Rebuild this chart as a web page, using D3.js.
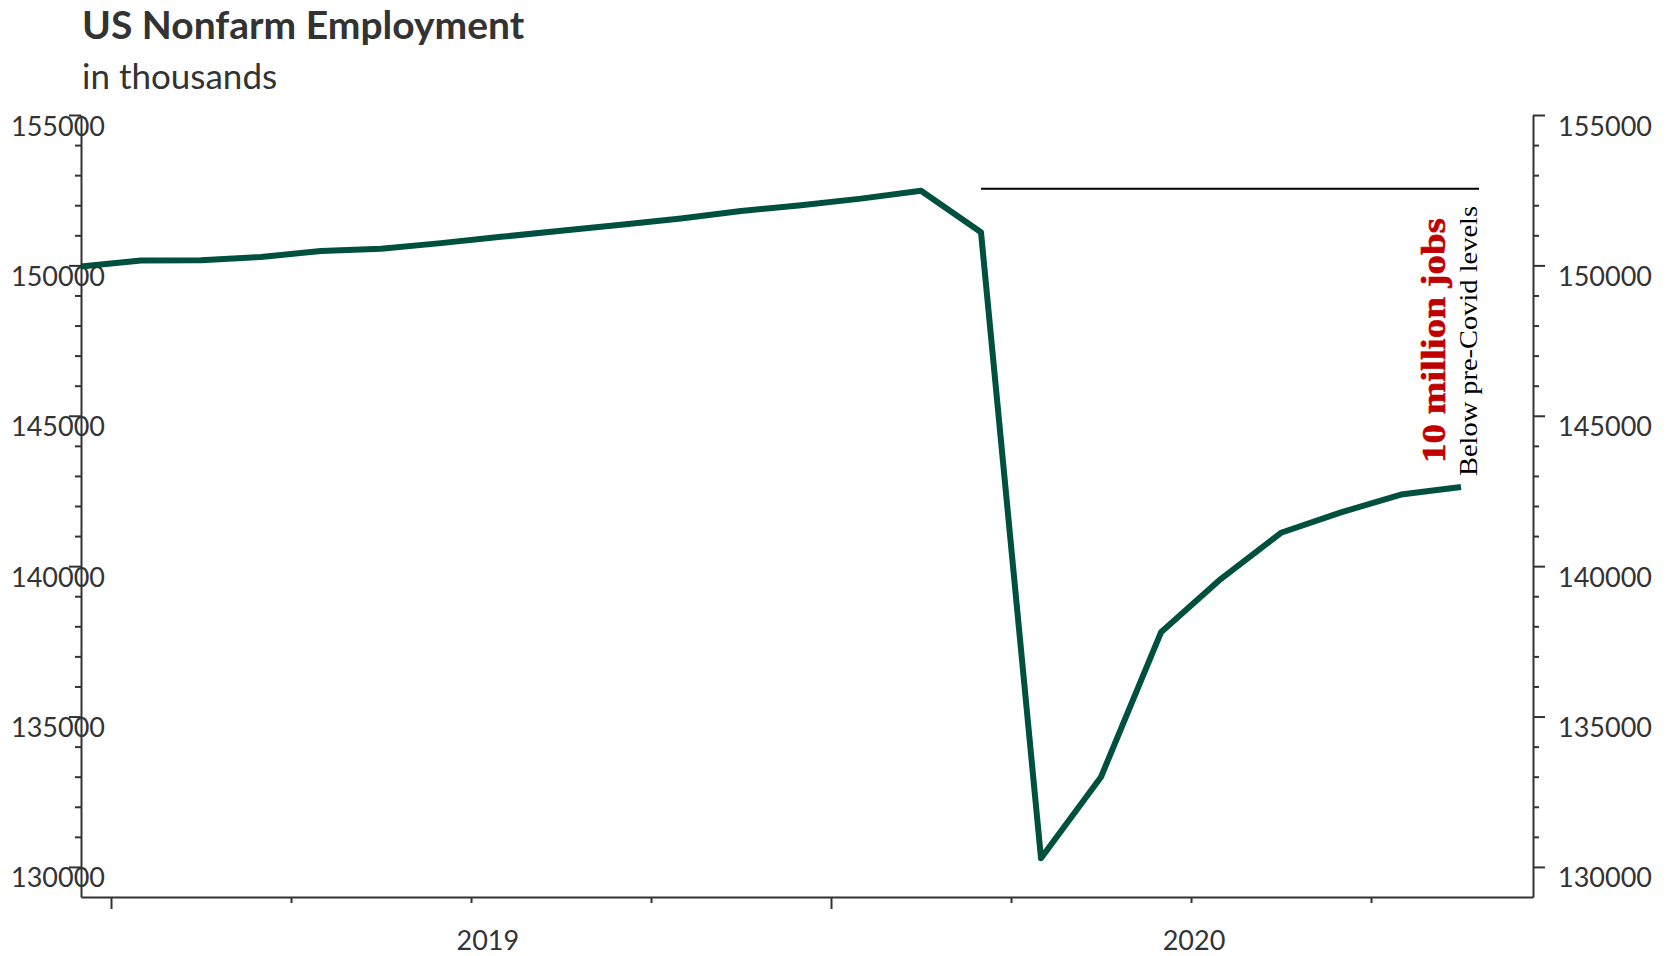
<!DOCTYPE html>
<html>
<head>
<meta charset="utf-8">
<script src="https://cdn.jsdelivr.net/npm/d3@7"></script>
<style>
  html, body { margin: 0; padding: 0; background: #fff; }
  svg { display: block; }
</style>
</head>
<body>
<svg id="chart" width="1671" height="956"></svg>
<script>
// Monthly US nonfarm payrolls, seasonally adjusted (thousands)
const months = [
  "2018-12",
  "2019-01","2019-02","2019-03","2019-04","2019-05","2019-06",
  "2019-07","2019-08","2019-09","2019-10","2019-11","2019-12",
  "2020-01","2020-02","2020-03","2020-04","2020-05","2020-06",
  "2020-07","2020-08","2020-09","2020-10","2020-11"
];
const employment = [
  149960,
  150160, 150170, 150280, 150480, 150550, 150740,
  150950, 151150, 151350, 151560, 151810, 152000,
  152220, 152480, 151100, 130290, 132990, 137800,
  139580, 141110, 141790, 142380, 142630
];
const yearLabels = ["2019", "2020"];
const yMajorTicks = [130000, 135000, 140000, 145000, 150000, 155000];
const annotationHeadline = "10 million jobs";
const annotationNote = "Below pre-Covid levels";

const svg = d3.select("#chart");
const plot = { left: 81, right: 1533, top: 115, bottom: 897 };
const ink = "#333333";
const lineColor = "#00503f";

// month index scale; the plot extends a little past the last month
const x = d3.scaleLinear().domain([0, 24.2]).range([plot.left, plot.right]);
const y = d3.scaleLinear().domain([129000, 155000]).range([plot.bottom, plot.top]);

// Title block
svg.append("text")
  .attr("x", 82).attr("y", 39)
  .attr("font-family", "Lato, sans-serif").attr("font-weight", 700)
  .attr("font-size", 39).attr("fill", ink)
  .text("US Nonfarm Employment");
svg.append("text")
  .attr("x", 82).attr("y", 89)
  .attr("font-family", "Lato, sans-serif").attr("font-size", 35).attr("fill", ink)
  .text("in thousands");

// y ticks every 1000, labelled every 5000
const yTicks = d3.range(130000, 155001, 1000);
const isMajor = v => v % 5000 === 0;

function styleYAxis(g, side) {
  const dir = side === "left" ? -1 : 1;
  g.select(".domain").attr("stroke", ink).attr("stroke-width", 2);
  g.selectAll(".tick line")
    .attr("stroke", ink).attr("stroke-width", 2)
    .attr("x2", d => dir * (isMajor(d) ? 12 : 6));
  g.selectAll(".tick text")
    .attr("font-family", "Lato, sans-serif").attr("font-size", 27)
    .attr("fill", ink)
    .attr("text-anchor", "start")
    .attr("x", side === "left" ? -70 : 25)
    .attr("y", 20).attr("dy", 0)
    .text(d => yMajorTicks.includes(d) ? d : "");
}

const leftAxis = svg.append("g")
  .attr("transform", `translate(${plot.left},0)`)
  .call(d3.axisLeft(y).tickValues(yTicks).tickSizeOuter(0).tickFormat(d3.format("d")));
styleYAxis(leftAxis, "left");

const rightAxis = svg.append("g")
  .attr("transform", `translate(${plot.right},0)`)
  .call(d3.axisRight(y).tickValues(yTicks).tickSizeOuter(0).tickFormat(d3.format("d")));
styleYAxis(rightAxis, "right");

// x axis: quarter boundaries, longer marks at year boundaries
const quarterTicks = d3.range(0.5, 24, 3);
const bottomAxis = svg.append("g")
  .attr("transform", `translate(0,${plot.bottom})`)
  .call(d3.axisBottom(x).tickValues(quarterTicks).tickSizeOuter(0).tickFormat(""));
bottomAxis.select(".domain").attr("stroke", ink).attr("stroke-width", 2);
bottomAxis.selectAll(".tick line")
  .attr("stroke", ink).attr("stroke-width", 2)
  .attr("y2", d => ((d - 0.5) % 12 === 0) ? 12 : 6);

// year labels under each year's group of months
const yearCentres = [6.78, 18.55];
svg.append("g").selectAll("text")
  .data(yearLabels)
  .join("text")
  .attr("x", (d, i) => x(yearCentres[i]))
  .attr("y", 950)
  .attr("text-anchor", "middle")
  .attr("font-family", "Lato, sans-serif").attr("font-size", 27).attr("fill", ink)
  .text(d => d);

// employment line
const line = d3.line()
  .x((d, i) => x(i))
  .y(d => y(d));
svg.append("path")
  .datum(employment)
  .attr("d", line)
  .attr("fill", "none")
  .attr("stroke", lineColor)
  .attr("stroke-width", 6)
  .attr("stroke-linejoin", "round");

// pre-Covid peak reference line
const peak = d3.max(employment);
const peakIdx = employment.indexOf(peak);
svg.append("line")
  .attr("x1", x(peakIdx + 1)).attr("x2", x(23.3))
  .attr("y1", y(peak) - 2).attr("y2", y(peak) - 2)
  .attr("stroke", "#000").attr("stroke-width", 2);

// vertical annotation beside the latest reading
const lastX = x(employment.length - 1);
svg.append("text")
  .attr("transform", `translate(${lastX - 16},463) rotate(-90)`)
  .attr("font-family", "'Liberation Serif', serif").attr("font-weight", 700)
  .attr("font-size", 34).attr("fill", "#c00000")
  .attr("stroke", "#c00000").attr("stroke-width", 0.6)
  .attr("textLength", 245).attr("lengthAdjust", "spacingAndGlyphs")
  .text(annotationHeadline);
svg.append("text")
  .attr("transform", `translate(${lastX + 16},476) rotate(-90)`)
  .attr("font-family", "'Liberation Serif', serif")
  .attr("font-size", 25).attr("fill", "#000")
  .attr("textLength", 270).attr("lengthAdjust", "spacingAndGlyphs")
  .text(annotationNote);
</script>
</body>
</html>
